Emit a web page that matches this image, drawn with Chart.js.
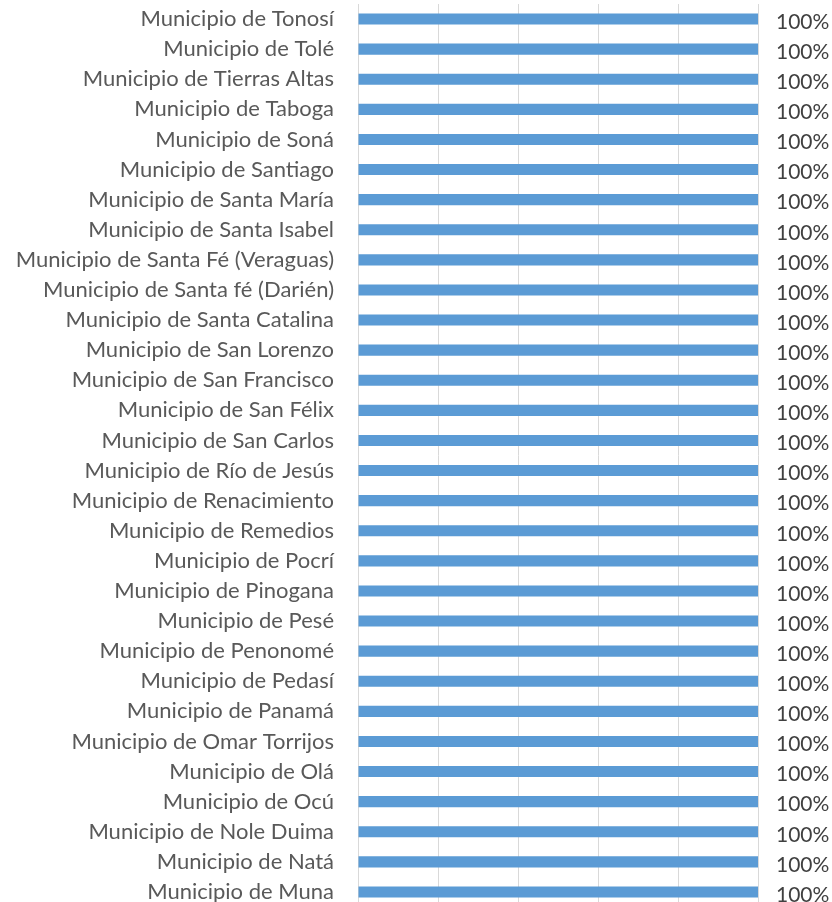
<!DOCTYPE html>
<html>
<head>
<meta charset="utf-8">
<script src="https://cdn.jsdelivr.net/npm/chart.js@4/dist/chart.umd.min.js"></script>
<style>
    html, body { margin: 0; padding: 0; background: #fff; overflow: hidden; }
    #wrap { width: 832px; height: 912px; position: relative; }
</style>
</head>
<body>
<div id="wrap"><canvas id="myChart"></canvas></div>
<script>
// municipios, from top to bottom as in the chart
const municipios = [
    'Municipio de Tonosí',
    'Municipio de Tolé',
    'Municipio de Tierras Altas',
    'Municipio de Taboga',
    'Municipio de Soná',
    'Municipio de Santiago',
    'Municipio de Santa María',
    'Municipio de Santa Isabel',
    'Municipio de Santa Fé (Veraguas)',
    'Municipio de Santa fé (Darién)',
    'Municipio de Santa Catalina',
    'Municipio de San Lorenzo',
    'Municipio de San Francisco',
    'Municipio de San Félix',
    'Municipio de San Carlos',
    'Municipio de Río de Jesús',
    'Municipio de Renacimiento',
    'Municipio de Remedios',
    'Municipio de Pocrí',
    'Municipio de Pinogana',
    'Municipio de Pesé',
    'Municipio de Penonomé',
    'Municipio de Pedasí',
    'Municipio de Panamá',
    'Municipio de Omar Torrijos',
    'Municipio de Olá',
    'Municipio de Ocú',
    'Municipio de Nole Duima',
    'Municipio de Natá',
    'Municipio de Muna'
];
const porcentajes = [100, 100, 100, 100, 100, 100, 100, 100, 100, 100,
                     100, 100, 100, 100, 100, 100, 100, 100, 100, 100,
                     100, 100, 100, 100, 100, 100, 100, 100, 100, 100];
const xTicks = [0, 20, 40, 60, 80, 100];

const labelFont = '"Lato", "Open Sans", sans-serif';

// draws the "100%" next to every bar
const valueLabels = {
    id: 'valueLabels',
    afterDatasetsDraw(chart) {
        let ctx = chart.ctx;
        let meta = chart.getDatasetMeta(0);
        ctx.save();
        ctx.font = '21px ' + labelFont;
        ctx.fillStyle = '#404040';
        ctx.textAlign = 'left';
        ctx.textBaseline = 'middle';
        meta.data.forEach((bar, i) => {
            ctx.fillText(porcentajes[i] + '%', bar.x + 18, bar.y + 3);
        });
        ctx.restore();
    }
};

var ctx = document.getElementById('myChart').getContext('2d');
var myChart = new Chart(ctx, {
    type: 'bar',
    data: {
        labels: municipios,
        datasets: [{
            data: porcentajes,
            backgroundColor: '#5b9bd5',
            borderWidth: 0,
            barPercentage: 0.37,
            categoryPercentage: 1
        }]
    },
    options: {
        indexAxis: 'y',
        responsive: true,
        maintainAspectRatio: false,
        animation: false,
        layout: { padding: { top: 4, right: 74, bottom: 5, left: 0 } },
        plugins: {
            legend: { display: false },
            tooltip: { enabled: false }
        },
        scales: {
            x: {
                min: 0,
                max: 100,
                afterBuildTicks: axis => { axis.ticks = xTicks.map(v => ({ value: v })); },
                ticks: { display: false },
                grid: { color: '#d9d9d9', lineWidth: 1, drawTicks: false },
                border: { display: false }
            },
            y: {
                afterFit: axis => { axis.width = 358; },
                ticks: {
                    color: '#595959',
                    padding: -10,
                    font: { family: labelFont, size: 22 }
                },
                grid: { display: false, drawTicks: true, tickLength: 34 },
                border: { display: true, color: '#d9d9d9' }
            }
        }
    },
    plugins: [valueLabels]
});
</script>
</body>
</html>
